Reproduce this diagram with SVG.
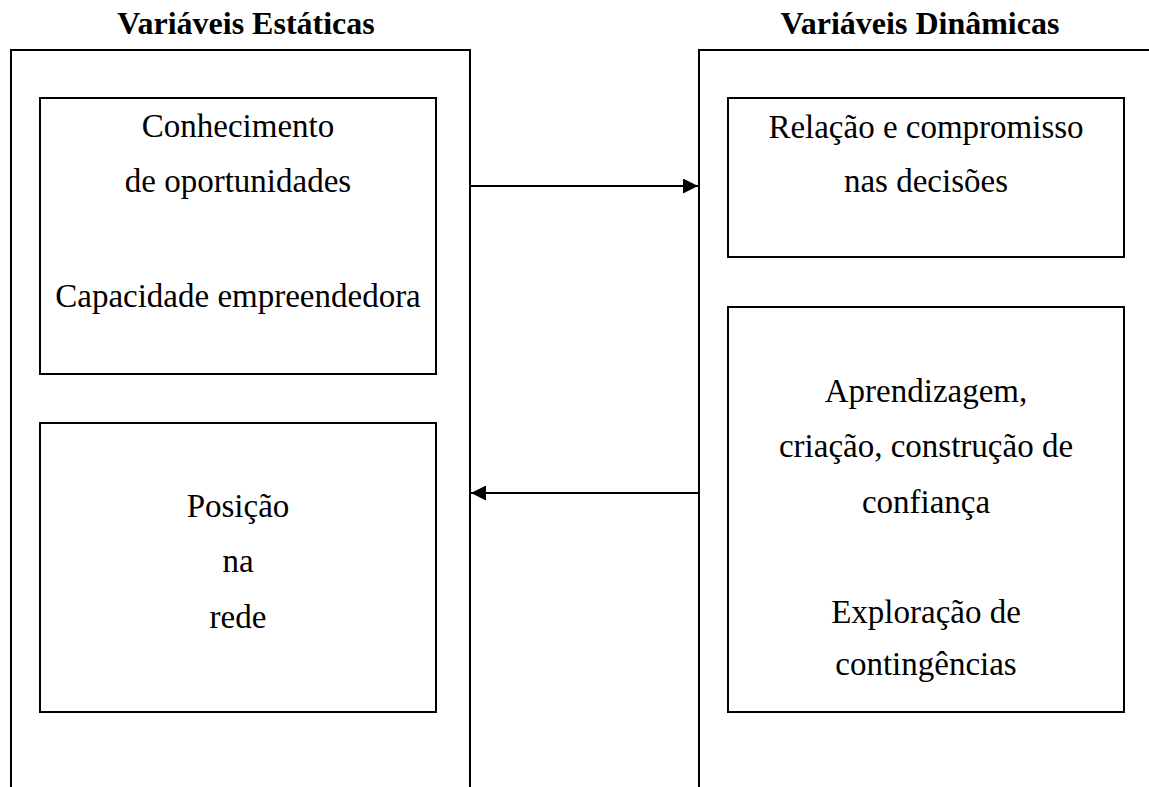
<svg xmlns="http://www.w3.org/2000/svg" width="1149" height="787" viewBox="0 0 1149 787">
  <style>
    .frame { fill: none; stroke: #000; stroke-width: 2; }
    .box { fill: #fff; stroke: #000; stroke-width: 2; }
    .title { font-family: "Liberation Serif", "Times New Roman", serif; font-weight: bold; font-size: 32px; fill: #000; text-anchor: middle; }
    .label { font-family: "Liberation Serif", "Times New Roman", serif; font-size: 33px; fill: #000; text-anchor: middle; }
    .link { stroke: #000; stroke-width: 2; fill: none; }
  </style>
  <defs>
    <marker id="head" viewBox="0 0 10 10" refX="10" refY="5" markerWidth="7.5" markerHeight="7.5" markerUnits="strokeWidth" orient="auto">
      <path d="M0,0 L10,5 L0,10 z" fill="#000"/>
    </marker>
  </defs>
  <rect width="1149" height="787" fill="#fff"/>

  <!-- Static variables column -->
  <g id="static-column">
    <text class="title" x="246" y="34">Variáveis Estáticas</text>
    <path class="frame" d="M11,787 V50 H470 V787"/>
  </g>

  <!-- Dynamic variables column (open to the right) -->
  <g id="dynamic-column">
    <text class="title" x="920" y="34">Variáveis Dinâmicas</text>
    <path class="frame" d="M699,787 V50 H1149"/>
  </g>

  <g id="node-knowledge">
    <rect class="box" x="40" y="98" width="396" height="276"/>
    <text class="label" x="238" y="137">Conhecimento</text>
    <text class="label" x="238" y="192">de oportunidades</text>
    <text class="label" x="238" y="307">Capacidade empreendedora</text>
  </g>

  <g id="node-position">
    <rect class="box" x="40" y="423" width="396" height="289"/>
    <text class="label" x="238" y="517">Posição</text>
    <text class="label" x="238" y="572">na</text>
    <text class="label" x="238" y="628">rede</text>
  </g>

  <g id="node-relation">
    <rect class="box" x="728" y="98" width="396" height="159"/>
    <text class="label" x="926" y="138">Relação e compromisso</text>
    <text class="label" x="926" y="192">nas decisões</text>
  </g>

  <g id="node-learning">
    <rect class="box" x="728" y="307" width="396" height="405"/>
    <text class="label" x="926" y="402">Aprendizagem,</text>
    <text class="label" x="926" y="457">criação, construção de</text>
    <text class="label" x="926" y="513">confiança</text>
    <text class="label" x="926" y="623">Exploração de</text>
    <text class="label" x="926" y="675">contingências</text>
  </g>

  <g id="connectors">
    <line class="link" x1="470" y1="186" x2="698" y2="186" marker-end="url(#head)"/>
    <line class="link" x1="699" y1="493" x2="471" y2="493" marker-end="url(#head)"/>
  </g>
</svg>
